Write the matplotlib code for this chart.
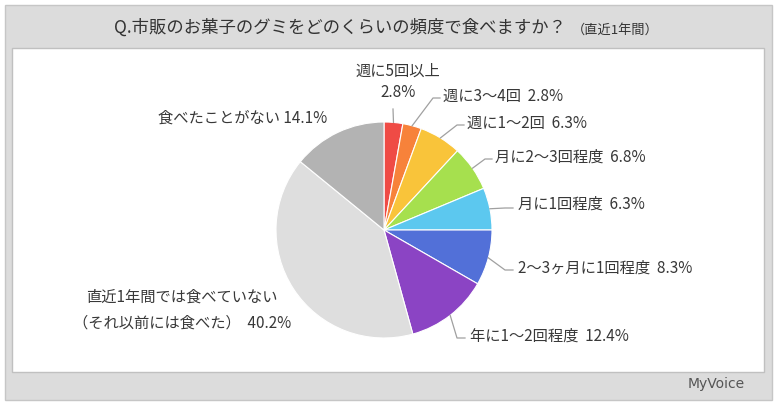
import matplotlib
matplotlib.use("Agg")
import numpy as np
import matplotlib.pyplot as plt
from matplotlib.patches import Rectangle

plt.rcParams['font.family'] = ['Noto Sans CJK JP', 'DejaVu Sans']

# data
labels = ["週に5回以上", "週に3～4回", "週に1～2回", "月に2～3回程度", "月に1回程度",
          "2～3ヶ月に1回程度", "年に1～2回程度",
          "直近1年間では食べていない\n（それ以前には食べた）", "食べたことがない"]
values = [2.8, 2.8, 6.3, 6.8, 6.3, 8.3, 12.4, 40.2, 14.1]
colors = ["#ef4b45", "#f7823a", "#f9c43a", "#a6e04e", "#5cc8ef",
          "#5270d8", "#8b44c4", "#dedede", "#b3b3b3"]

W, H = 780, 405
TXT = "#383838"
LINE = "#a0a0a0"

def Y(y):
    # image pixel row -> data y
    return H - y

fig = plt.figure(figsize=(W / 100, H / 100), dpi=100)
ax = fig.add_axes([0, 0, 1, 1])

# frame
ax.add_patch(Rectangle((5, Y(400)), 767, 395, facecolor="#dcdcdc",
                       edgecolor="#c6c6c6", lw=1, zorder=0))
ax.add_patch(Rectangle((12, Y(372)), 752, 324, facecolor="white",
                       edgecolor="#c0c0c0", lw=1, zorder=1))

ax.text(566, Y(28), "Q.市販のお菓子のグミをどのくらいの頻度で食べますか？",
        ha="right", va="center", fontsize=12.5, color="#333333", zorder=3)
ax.text(572, Y(30), "（直近1年間）", ha="left", va="center",
        fontsize=9.5, color="#333333", zorder=3)

# pie
cx, cy, R = 384, Y(230), 108
wedges, _ = ax.pie(values, colors=colors, startangle=90, counterclock=False,
                   center=(cx, cy), radius=R,
                   wedgeprops=dict(edgecolor="white", linewidth=0.8, zorder=2))

# label layout: (text x, text y, ha, elbow x, elbow y, end x)  in image pixels
layout = [
    (398, 82, "center", 393, 109, None),
    (443, 96, "left", 433, 98, 440),
    (467, 123, "left", 457, 125, 464),
    (495, 157, "left", 485, 159, 492),
    (518, 204, "left", 505, 208, 513),
    (518, 268, "left", 505, 270, 513),
    (470, 336, "left", 457, 338, 465),
    (182, 310, "center", None, None, None),
    (327, 118, "right", None, None, None),
]

for w, lab, v, (tx, ty, ha, ex, ey, endx) in zip(wedges, labels, values, layout):
    if lab == "週に5回以上":
        s = lab + "\n" + f"{v}%"
        ls = 1.3
    elif "\n" in lab:
        s = lab + f"  {v}%"
        ls = 1.7
    elif lab == "食べたことがない":
        s = lab + f" {v}%"
        ls = 1.2
    else:
        s = lab + f"  {v}%"
        ls = 1.2
    ax.text(tx, Y(ty), s, ha=ha, va="center", fontsize=11, color=TXT,
            linespacing=ls, multialignment="center", zorder=3)
    if ex is not None:
        a = np.deg2rad((w.theta1 + w.theta2) / 2)
        sx, sy = cx + R * np.cos(a), cy + R * np.sin(a)
        xs = [sx, ex]
        ys = [sy, Y(ey)]
        if endx is not None:
            xs.append(endx)
            ys.append(Y(ey))
        ax.plot(xs, ys, color=LINE, lw=0.9, zorder=3)

ax.text(745, Y(384), "MyVoice", ha="right", va="center", fontsize=10,
        color="#555555", family=["DejaVu Sans"], zorder=3)

ax.set_xlim(0, W)
ax.set_ylim(0, H)
ax.set_aspect("equal")
ax.axis("off")

fig.savefig("out.png", dpi=100)
